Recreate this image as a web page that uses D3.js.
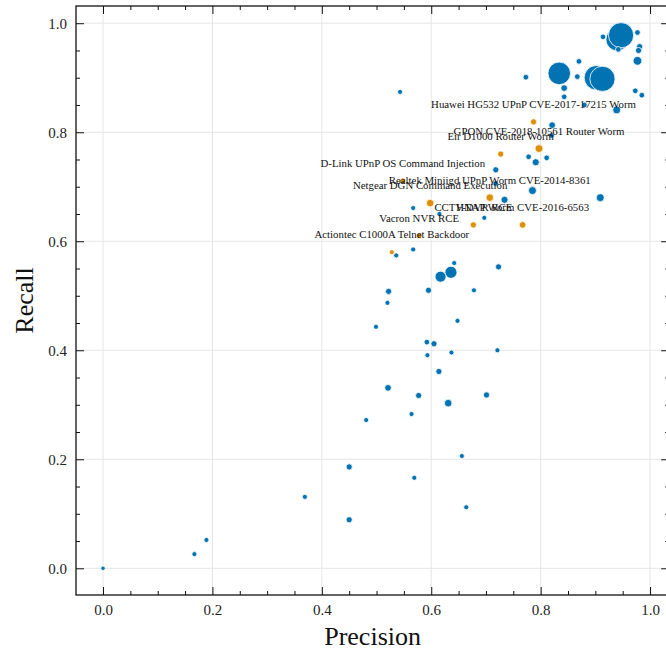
<!DOCTYPE html>
<html>
<head>
<meta charset="utf-8">
<script src="https://cdn.jsdelivr.net/npm/d3@7"></script>
<style>
  html, body { margin: 0; padding: 0; background: #fff; }
  svg { display: block; }
  text { font-family: "Liberation Serif", "Times New Roman", serif; }
</style>
</head>
<body>
<div id="chart"></div>
<script>
// Non-worm detections: precision, recall, and sample weight
const otherPrecision = [0.940, 0.947, 0.914, 0.977, 0.942, 0.981, 0.979, 0.977, 0.870, 0.773,
  0.834, 0.867, 0.902, 0.913, 0.843, 0.843, 0.973, 0.985, 0.939, 0.880,
  0.821, 0.820, 0.778, 0.811, 0.791, 0.718, 0.718, 0.785, 0.909, 0.734,
  0.567, 0.615, 0.697, 0.567, 0.536, 0.642, 0.636, 0.617, 0.723, 0.522,
  0.595, 0.678, 0.520, 0.648, 0.499, 0.592, 0.605, 0.593, 0.637, 0.721,
  0.614, 0.521, 0.577, 0.701, 0.631, 0.564, 0.481, 0.656, 0.450, 0.569,
  0.664, 0.450, 0.000, 0.167, 0.189, 0.369, 0.543];
const otherRecall = [0.970, 0.978, 0.975, 0.983, 0.952, 0.957, 0.950, 0.931, 0.930, 0.901,
  0.908, 0.902, 0.900, 0.898, 0.881, 0.865, 0.876, 0.868, 0.841, 0.850,
  0.813, 0.794, 0.755, 0.753, 0.745, 0.731, 0.706, 0.693, 0.680, 0.676,
  0.661, 0.650, 0.643, 0.585, 0.574, 0.560, 0.543, 0.535, 0.553, 0.508,
  0.510, 0.510, 0.487, 0.454, 0.443, 0.415, 0.412, 0.391, 0.396, 0.400,
  0.361, 0.331, 0.317, 0.318, 0.303, 0.283, 0.272, 0.206, 0.186, 0.166,
  0.112, 0.089, 0.000, 0.026, 0.052, 0.131, 0.874];
const otherWeight = [80, 100, 5, 5, 5, 6, 6, 12, 5, 5,
  80, 5, 95, 100, 7, 5, 5, 5, 10, 5,
  7, 5, 5, 5, 8, 6, 5, 10, 10, 8,
  4, 4, 4, 4, 4, 4, 23, 19, 6, 6,
  6, 4, 4, 4, 4, 5, 6, 4, 4, 4,
  6, 7, 6, 6, 9, 4, 4, 4, 6, 4,
  4, 6, 3, 4, 4, 4, 4];

// Worm / exploit families, labelled on the chart
const wormNames = [
  "Huawei HG532 UPnP CVE-2017-17215 Worm",
  "GPON CVE-2018-10561 Router Worm",
  "Eir D1000 Router Worm",
  "D-Link UPnP OS Command Injection",
  "Realtek Miniigd UPnP Worm CVE-2014-8361",
  "Netgear DGN Command Execution",
  "CCTV-DVR RCE",
  "HNAP Worm CVE-2016-6563",
  "Vacron NVR RCE",
  "Actiontec C1000A Telnet Backdoor"
];
const wormPrecision = [0.787, 0.797, 0.727, 0.548, 0.707, 0.598, 0.677, 0.767, 0.578, 0.528];
const wormRecall    = [0.819, 0.770, 0.760, 0.711, 0.680, 0.670, 0.630, 0.630, 0.610, 0.580];
const wormWeight    = [6, 10, 6, 5, 9, 9, 6, 7, 5, 4];

const majorTicks = [0.0, 0.2, 0.4, 0.6, 0.8, 1.0];

const W = 666, H = 654;
const blue = "#0173b2", orange = "#de8f05";

const svg = d3.select("#chart").append("svg")
  .attr("width", W).attr("height", H)
  .style("background", "#fff");

const x = d3.scaleLinear().domain([-0.0494, 1.035]).range([76, 669.2]);
const y = d3.scaleLinear().domain([-0.049, 1.0316]).range([595, 6]);
const r = d3.scaleSqrt().domain([0, 100]).range([0, 12.6]);

const [x0, x1] = x.range();
const [y0, y1] = y.range();

const minorOf = (dom) => d3.range(-0.05, 1.0501, 0.05)
  .map(v => Math.round(v * 100) / 100)
  .filter(v => v >= dom[0] && v <= dom[1] && Math.abs(v * 5 - Math.round(v * 5)) > 1e-6);

// grid
const grid = svg.append("g").attr("stroke", "#e6e6e6").attr("stroke-width", 1);
grid.selectAll(".gx").data(majorTicks).join("line")
  .attr("x1", d => x(d)).attr("x2", d => x(d)).attr("y1", y0).attr("y2", y1);
grid.selectAll(".gy").data(majorTicks).join("line")
  .attr("y1", d => y(d)).attr("y2", d => y(d)).attr("x1", x0).attr("x2", x1);

// points
const others = otherPrecision.map((p, i) => ({ p, rc: otherRecall[i], w: otherWeight[i] }));
const worms = wormPrecision.map((p, i) => ({ p, rc: wormRecall[i], w: wormWeight[i], name: wormNames[i] }));

svg.append("g").selectAll("circle").data(others).join("circle")
  .attr("cx", d => x(d.p)).attr("cy", d => y(d.rc)).attr("r", d => r(d.w))
  .attr("fill", blue).attr("stroke", "#fff").attr("stroke-width", 0.8);

svg.append("g").selectAll("circle").data(worms).join("circle")
  .attr("cx", d => x(d.p)).attr("cy", d => y(d.rc)).attr("r", d => r(d.w))
  .attr("fill", orange).attr("stroke", "#fff").attr("stroke-width", 0.8);

svg.append("g").selectAll("text").data(worms).join("text")
  .attr("x", d => x(d.p)).attr("y", d => y(d.rc) - 14)
  .attr("text-anchor", "middle")
  .attr("font-size", 10.8).attr("fill", "#111")
  .text(d => d.name);

// axes: inward ticks on all four sides
function styleAxis(g) {
  g.select(".domain").remove();
  g.selectAll(".tick line").attr("stroke", "#111").attr("stroke-width", 1);
  g.selectAll(".tick text").attr("fill", "#222").attr("font-size", 15)
    .style("font-family", "'Liberation Serif', serif");
}
const fmt = d3.format(".1f");

svg.append("g").attr("transform", `translate(0,${y0})`)
  .call(d3.axisBottom(x).tickValues(majorTicks).tickFormat(fmt).tickSize(-8).tickPadding(9)).call(styleAxis);
svg.append("g").attr("transform", `translate(0,${y0})`)
  .call(d3.axisBottom(x).tickValues(minorOf(x.domain())).tickFormat("").tickSize(-4)).call(styleAxis);
svg.append("g").attr("transform", `translate(0,${y1})`)
  .call(d3.axisTop(x).tickValues(majorTicks).tickFormat("").tickSize(-8)).call(styleAxis);
svg.append("g").attr("transform", `translate(0,${y1})`)
  .call(d3.axisTop(x).tickValues(minorOf(x.domain())).tickFormat("").tickSize(-4)).call(styleAxis);

svg.append("g").attr("transform", `translate(${x0},0)`)
  .call(d3.axisLeft(y).tickValues(majorTicks).tickFormat(fmt).tickSize(-8).tickPadding(9)).call(styleAxis);
svg.append("g").attr("transform", `translate(${x0},0)`)
  .call(d3.axisLeft(y).tickValues(minorOf(y.domain())).tickFormat("").tickSize(-4)).call(styleAxis);
svg.append("g").attr("transform", `translate(${x1},0)`)
  .call(d3.axisRight(y).tickValues(majorTicks).tickFormat("").tickSize(-8)).call(styleAxis);
svg.append("g").attr("transform", `translate(${x1},0)`)
  .call(d3.axisRight(y).tickValues(minorOf(y.domain())).tickFormat("").tickSize(-4)).call(styleAxis);

// frame
svg.append("rect")
  .attr("x", x0).attr("y", y1).attr("width", x1 - x0).attr("height", y0 - y1)
  .attr("fill", "none").attr("stroke", "#111").attr("stroke-width", 1.3);

// axis titles
svg.append("text")
  .attr("x", (x0 + x1) / 2).attr("y", 645)
  .attr("text-anchor", "middle").attr("font-size", 26).attr("fill", "#111")
  .text("Precision");
svg.append("text")
  .attr("transform", `translate(33,${(y0 + y1) / 2}) rotate(-90)`)
  .attr("text-anchor", "middle").attr("font-size", 26).attr("fill", "#111")
  .text("Recall");
</script>
</body>
</html>
